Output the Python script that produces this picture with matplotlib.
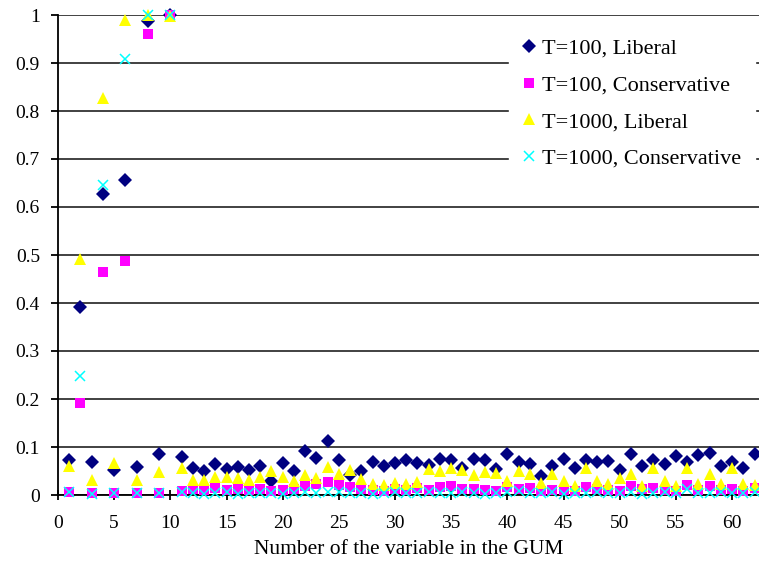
import numpy as np
import matplotlib
matplotlib.use("Agg")
import matplotlib.pyplot as plt

plt.rcParams["font.family"] = ["Liberation Serif", "DejaVu Serif"]

variables = np.arange(1, 63)

# rejection frequencies per variable (T=100 / T=1000, liberal / conservative)
t100_liberal = [
    0.073, 0.392, 0.069, 0.627, 0.053, 0.657, 0.058, 0.988, 0.085, 1.000,
    0.079, 0.057, 0.050, 0.064, 0.054, 0.059, 0.053, 0.061, 0.029, 0.066,
    0.049, 0.092, 0.078, 0.112, 0.073, 0.042, 0.051, 0.069, 0.061, 0.066,
    0.073, 0.066, 0.062, 0.074, 0.073, 0.056, 0.076, 0.073, 0.054, 0.086,
    0.069, 0.065, 0.040, 0.060, 0.076, 0.056, 0.073, 0.068, 0.071, 0.052,
    0.085, 0.060, 0.073, 0.065, 0.081, 0.069, 0.083, 0.087, 0.061, 0.069,
    0.056, 0.085,
]
t100_conservative = [
    0.006, 0.192, 0.004, 0.465, 0.005, 0.487, 0.005, 0.960, 0.005, 1.000,
    0.009, 0.012, 0.010, 0.014, 0.011, 0.013, 0.010, 0.012, 0.008, 0.011,
    0.013, 0.018, 0.022, 0.027, 0.020, 0.016, 0.012, 0.010, 0.009, 0.012,
    0.010, 0.014, 0.011, 0.016, 0.019, 0.013, 0.012, 0.011, 0.008, 0.017,
    0.012, 0.014, 0.008, 0.011, 0.010, 0.009, 0.016, 0.012, 0.010, 0.008,
    0.018, 0.012, 0.015, 0.011, 0.009, 0.020, 0.010, 0.018, 0.011, 0.012,
    0.008, 0.014,
]
t1000_liberal = [
    0.060, 0.492, 0.031, 0.828, 0.066, 0.990, 0.031, 1.000, 0.047, 0.998,
    0.056, 0.031, 0.031, 0.038, 0.038, 0.036, 0.031, 0.038, 0.049, 0.038,
    0.030, 0.042, 0.035, 0.058, 0.044, 0.052, 0.033, 0.022, 0.020, 0.024,
    0.022, 0.028, 0.054, 0.050, 0.056, 0.052, 0.042, 0.048, 0.046, 0.030,
    0.050, 0.044, 0.025, 0.044, 0.030, 0.018, 0.057, 0.030, 0.022, 0.035,
    0.044, 0.018, 0.057, 0.030, 0.018, 0.057, 0.022, 0.044, 0.022, 0.057,
    0.022, 0.020,
]
t1000_conservative = [
    0.006, 0.247, 0.003, 0.645, 0.004, 0.908, 0.004, 1.000, 0.005, 1.000,
    0.006, 0.004, 0.003, 0.005, 0.006, 0.003, 0.004, 0.005, 0.004, 0.003,
    0.004, 0.006, 0.005, 0.007, 0.006, 0.004, 0.005, 0.003, 0.004, 0.006,
    0.005, 0.004, 0.006, 0.005, 0.004, 0.007, 0.005, 0.003, 0.004, 0.006,
    0.008, 0.005, 0.004, 0.006, 0.003, 0.005, 0.004, 0.006, 0.005, 0.004,
    0.006, 0.003, 0.005, 0.007, 0.004, 0.012, 0.005, 0.004, 0.006, 0.005,
    0.004, 0.006,
]

y_ticks = np.arange(0, 1.01, 0.1)
y_ticklabels = ["0", "0.1", "0.2", "0.3", "0.4", "0.5", "0.6", "0.7", "0.8", "0.9", "1"]
x_ticks = np.arange(0, 61, 5)

fig = plt.figure(figsize=(7.59, 5.63), dpi=100)
ax = fig.add_axes([58 / 759, 1 - 495 / 563, 1 - 58 / 759, 480 / 563])

ax.plot(variables, t100_liberal, "D", color="#000080", ms=7.5, mew=0,
        label="T=100, Liberal", clip_on=False, zorder=3)
ax.plot(variables, t100_conservative, "s", color="#FF00FF", ms=7, mew=0,
        label="T=100, Conservative", clip_on=False, zorder=4)
ax.plot(variables, t1000_liberal, "^", color="#FFFF00", ms=8.5, mew=0,
        label="T=1000, Liberal", clip_on=False, zorder=5)
ax.plot(variables, t1000_conservative, "x", color="#00FFFF", ms=6.5, mew=1.1,
        label="T=1000, Conservative", clip_on=False, zorder=6)

ax.set_xlim(0, 62.4)
ax.set_ylim(0, 1)
ax.set_yticks(y_ticks)
ax.set_yticklabels(y_ticklabels)
ax.set_xticks(x_ticks)
ax.yaxis.grid(True, color="#333333", lw=1.3)
ax.set_axisbelow(True)
for sp in ("top", "right"):
    ax.spines[sp].set_visible(False)
ax.spines["left"].set_linewidth(1.3)
ax.spines["bottom"].set_linewidth(1.3)
ax.tick_params(axis="y", direction="out", length=5, width=1.3, labelsize=14, pad=8)
ax.tick_params(axis="x", direction="inout", length=7, width=1.3, labelsize=14, pad=11)
ax.set_xlabel("Number of the variable in the GUM", fontsize=15.5, labelpad=6)

leg = ax.legend(loc="upper right", bbox_to_anchor=(0.994, 0.979), borderaxespad=0,
                frameon=True, fancybox=False, edgecolor="white", framealpha=1,
                fontsize=16, labelspacing=0.72, handlelength=0.6,
                handletextpad=0.3, borderpad=0.6, markerscale=1.0)
leg.set_zorder(10)

fig.savefig("out.png", dpi=100)
